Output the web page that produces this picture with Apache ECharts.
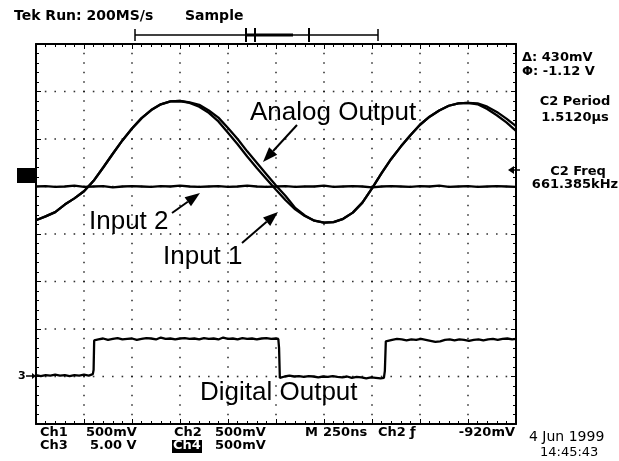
<!DOCTYPE html>
<html>
<head>
<meta charset="utf-8">
<script src="https://cdn.jsdelivr.net/npm/echarts@6/dist/echarts.min.js"></script>
<style>
html,body{margin:0;padding:0;background:#fff;}
#scope{width:619px;height:461px;}
</style>
</head>
<body>
<div id="scope"></div>
<script>
// Time base: 250 ns/div, 10 divisions across the screen
const timeNs = [0,50,100,150,200,250,300,350,400,450,500,550,600,650,700,750,800,850,900,950,
  1000,1050,1100,1150,1200,1250,1300,1350,1400,1450,1500,1550,1600,1650,1700,1750,1800,1850,1900,1950,
  2000,2050,2100,2150,2200,2250,2300,2350,2400,2450,2500];

// Vertical values in screen divisions (centre = 0)
const input1 = [0.29,0.37,0.46,0.62,0.75,0.90,1.12,1.40,1.69,1.97,2.22,2.44,2.61,2.73,2.79,2.80,2.76,
  2.68,2.55,2.37,2.13,1.89,1.63,1.39,1.16,0.93,0.71,0.52,0.38,0.28,0.24,0.25,0.32,0.45,0.66,0.96,1.28,
  1.58,1.84,2.08,2.30,2.47,2.60,2.70,2.75,2.76,2.73,2.63,2.50,2.35,2.17];

const analogOutput = [0.29,0.37,0.46,0.62,0.75,0.90,1.12,1.40,1.69,1.97,2.22,2.44,2.61,2.73,2.79,2.80,2.77,
  2.72,2.60,2.45,2.23,2.00,1.74,1.50,1.26,1.02,0.80,0.55,0.39,0.28,0.24,0.25,0.32,0.45,0.66,0.96,1.28,
  1.58,1.84,2.08,2.30,2.47,2.60,2.70,2.75,2.76,2.75,2.68,2.57,2.43,2.27];

const input2 = [1.00,1.01,0.99,1.00,1.02,0.99,1.00,1.01,0.98,1.00,1.01,1.00,0.99,1.01,1.00,1.02,1.00,
  0.99,1.00,1.01,0.99,1.00,1.02,1.00,0.99,1.00,1.01,0.99,1.00,1.00,1.02,0.99,1.00,1.01,1.00,0.98,1.00,
  1.01,1.00,0.99,1.01,1.00,1.02,0.99,1.00,1.01,0.99,1.00,1.01,1.00,0.99];

// Digital output (Ch3) as [time ns, divisions]
const digitalOutput = [
  [0,-2.97],[25,-2.99],[50,-2.97],[75,-2.98],[100,-2.96],[125,-2.98],[150,-2.97],[175,-2.99],[200,-2.97],
  [225,-2.98],[250,-2.96],[275,-2.98],[296,-2.95],[300,-2.86],[303,-2.24],[325,-2.22],[350,-2.20],
  [375,-2.23],[400,-2.21],[425,-2.19],[450,-2.22],[475,-2.21],[500,-2.20],[525,-2.23],[550,-2.21],
  [575,-2.19],[600,-2.20],[625,-2.22],[650,-2.18],[675,-2.21],[700,-2.20],[725,-2.22],[750,-2.20],
  [775,-2.19],[800,-2.21],[825,-2.20],[850,-2.22],[875,-2.19],[900,-2.21],[925,-2.20],[950,-2.22],
  [975,-2.18],[1000,-2.21],[1025,-2.20],[1050,-2.22],[1075,-2.19],[1100,-2.21],[1125,-2.20],[1150,-2.22],
  [1175,-2.20],[1200,-2.19],[1225,-2.21],[1250,-2.20],[1262,-2.21],[1266,-2.40],[1270,-3.03],[1280,-3.06],
  [1295,-3.00],[1320,-2.98],[1345,-3.00],[1370,-2.99],[1395,-3.01],[1420,-2.99],[1445,-3.00],[1470,-3.02],
  [1495,-3.00],[1520,-3.01],[1545,-2.99],[1570,-3.01],[1595,-3.02],[1620,-3.00],[1645,-3.03],[1670,-3.01],
  [1695,-3.02],[1720,-3.04],[1745,-3.02],[1770,-3.03],[1795,-3.04],[1812,-3.03],[1817,-2.88],[1822,-2.26],
  [1830,-2.22],[1855,-2.23],[1880,-2.21],[1905,-2.22],[1930,-2.24],[1955,-2.22],[1980,-2.23],[2005,-2.21],
  [2030,-2.23],[2055,-2.25],[2080,-2.27],[2105,-2.26],[2130,-2.23],[2155,-2.22],[2180,-2.24],[2205,-2.22],
  [2230,-2.23],[2255,-2.25],[2280,-2.23],[2305,-2.22],[2330,-2.24],[2355,-2.22],[2380,-2.21],[2405,-2.23],
  [2430,-2.21],[2455,-2.20],[2480,-2.22],[2500,-2.21]
];

// Graticule
const timeMin = 0, timeMax = 2500, timeDiv = 250;
const divMin = -4, divMax = 4, divStep = 1;
const minorPerDiv = 5;

const graticuleDots = [];
for (let t = timeMin + timeDiv; t < timeMax; t += timeDiv) {
  for (let k = 1; k < (divMax - divMin) * minorPerDiv; k++) {
    graticuleDots.push([t, divMin + k / minorPerDiv]);
  }
}
for (let d = divMin + divStep; d < divMax; d += divStep) {
  for (let k = 1; k < (timeMax - timeMin) / timeDiv * minorPerDiv; k++) {
    graticuleDots.push([timeMin + k * timeDiv / minorPerDiv, d]);
  }
}

const trace = (data, name) => ({
  name, type: 'line', data, showSymbol: false, smooth: false, z: 5,
  lineStyle: { color: '#000', width: 2.3 }
});

function frameAxis(position, min, max, interval) {
  return {
    type: 'value', position, min, max, interval,
    axisLine: { show: true, onZero: false, lineStyle: { color: '#000', width: 2 } },
    axisTick: { show: true, inside: true, length: 5, lineStyle: { color: '#000', width: 1 } },
    minorTick: { show: true, splitNumber: minorPerDiv, length: 3, lineStyle: { color: '#000', width: 1 } },
    axisLabel: { show: false },
    splitLine: { show: false }
  };
}

const scopeFont = 'bold 13px "DejaVu Sans"';
const plainFont = '13px "DejaVu Sans"';
const noteFont = '26px "Liberation Sans"';

function label(text, x, y, font, align) {
  return { type: 'text', z: 20, style: { text, x, y, font: font || scopeFont, fill: '#000',
    align: align || 'left', verticalAlign: 'middle' } };
}

function arrow(x0, y0, x1, y1) {
  const dx = x1 - x0, dy = y1 - y0, len = Math.hypot(dx, dy);
  const ux = dx / len, uy = dy / len, head = 15, half = 5.5;
  const bx = x1 - ux * head, by = y1 - uy * head;
  return [
    { type: 'line', z: 20, shape: { x1: x0, y1: y0, x2: bx, y2: by }, style: { stroke: '#000', lineWidth: 2 } },
    { type: 'polygon', z: 20, shape: { points: [[x1, y1], [bx - uy * half, by + ux * half], [bx + uy * half, by - ux * half]] },
      style: { fill: '#000' } }
  ];
}

const line = (x1, y1, x2, y2, w) => ({ type: 'line', z: 20, shape: { x1, y1, x2, y2 }, style: { stroke: '#000', lineWidth: w || 1 } });

const graphics = [
  label('Tek Run: 200MS/s', 14, 16, 'bold 14px "DejaVu Sans"'),
  label('Sample', 185, 16, 'bold 14px "DejaVu Sans"'),
  // record-length bracket
  line(135, 35, 378, 35, 1.5), line(135, 29, 135, 41, 1.5), line(378, 29, 378, 41, 1.5),
  line(247, 35, 293, 35, 3), line(246, 28, 246, 42, 2), line(255, 28, 255, 42, 2), line(309, 28, 309, 42, 2),
  // channel markers
  { type: 'rect', z: 20, shape: { x: 17, y: 168, width: 18, height: 15 }, style: { fill: '#000' } },
  label('3', 18, 376, 'bold 11px "DejaVu Sans"'),
  line(26, 376, 34, 376, 1.5),
  { type: 'polygon', z: 20, shape: { points: [[36, 376], [32, 373], [32, 379]] }, style: { fill: '#000' } },
  { type: 'polygon', z: 20, shape: { points: [[508, 170], [514, 166], [514, 174]] }, style: { fill: '#000' } },
  line(513, 170, 520, 170, 1.5),
  // readouts
  label('\u0394: 430mV', 522, 58),
  label('\u03A6: -1.12 V', 522, 72),
  label('C2 Period', 575, 102, scopeFont, 'center'),
  label('1.5120\u00B5s', 575, 118, scopeFont, 'center'),
  label('C2 Freq', 578, 172, scopeFont, 'center'),
  label('661.385kHz', 575, 185, scopeFont, 'center'),
  label('Ch1', 40, 433), label('500mV', 86, 433),
  label('Ch3', 40, 446), label('5.00 V', 90, 446),
  label('Ch2', 174, 433), label('500mV', 215, 433),
  { type: 'rect', z: 19, shape: { x: 172, y: 440, width: 30, height: 13 }, style: { fill: '#000' } },
  { type: 'text', z: 20, style: { text: 'Ch4', x: 173, y: 446, font: scopeFont, fill: '#fff', verticalAlign: 'middle' } },
  label('500mV', 215, 446),
  label('M', 305, 433), label('250ns', 323, 433), label('Ch2', 378, 433), label('\u0192', 410, 433),
  label('-920mV', 515, 433, scopeFont, 'right'),
  label('4 Jun 1999', 529, 437, '14px "DejaVu Sans"'),
  label('14:45:43', 540, 453, plainFont),
  // annotations
  label('Analog Output', 250, 113, noteFont),
  label('Input 2', 89, 222, noteFont),
  label('Input 1', 163, 257, noteFont),
  label('Digital Output', 200, 393, noteFont),
  ...arrow(297, 125, 263, 162),
  ...arrow(172, 213, 200, 193),
  ...arrow(242, 243, 278, 212)
];

const chart = echarts.init(document.getElementById('scope'), null, { renderer: 'canvas' });
chart.setOption({
  animation: false,
  backgroundColor: '#fff',
  grid: { left: 36, top: 44, width: 480, height: 380 },
  xAxis: [frameAxis('bottom', timeMin, timeMax, timeDiv), frameAxis('top', timeMin, timeMax, timeDiv)],
  yAxis: [frameAxis('left', divMin, divMax, divStep), frameAxis('right', divMin, divMax, divStep)],
  series: [
    { type: 'scatter', data: graticuleDots, symbol: 'rect', symbolSize: 1.6, silent: true, z: 1,
      itemStyle: { color: '#000' } },
    trace(timeNs.map((t, i) => [t, input2[i]]), 'Input 2'),
    trace(timeNs.map((t, i) => [t, input1[i]]), 'Input 1'),
    trace(timeNs.map((t, i) => [t, analogOutput[i]]), 'Analog Output'),
    trace(digitalOutput, 'Digital Output')
  ],
  graphic: graphics
});
</script>
</body>
</html>
